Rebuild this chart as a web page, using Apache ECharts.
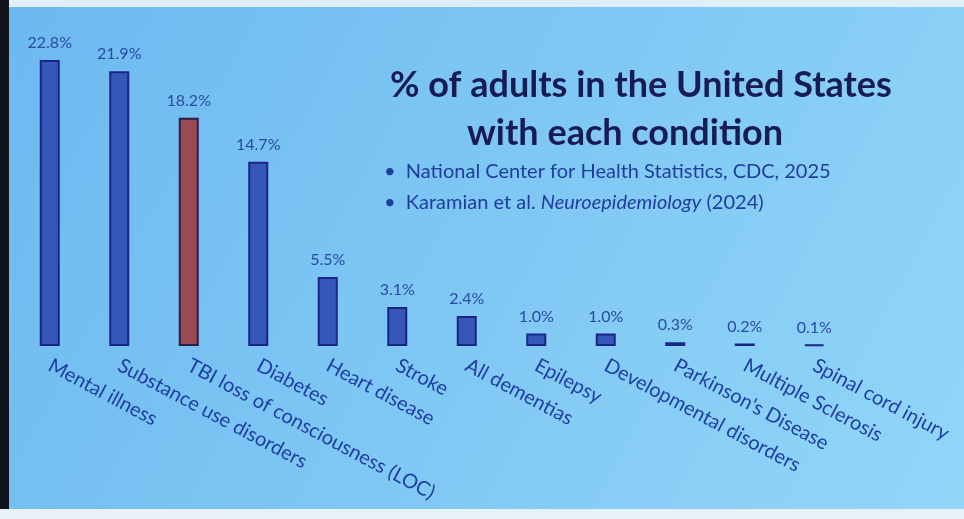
<!DOCTYPE html>
<html><head><meta charset="utf-8">
<script src="https://cdn.jsdelivr.net/npm/echarts@6/dist/echarts.min.js"></script>
<style>html,body{margin:0;padding:0;background:#fff}#c{width:964px;height:519px}</style>
</head><body><div id="c"></div>
<script>
const categories = ["Mental illness","Substance use disorders","TBI loss of consciousness (LOC)","Diabetes","Heart disease","Stroke","All dementias","Epilepsy","Developmental disorders","Parkinson's Disease","Multiple Sclerosis","Spinal cord injury"];
const values = [22.8, 21.9, 18.2, 14.7, 5.5, 3.1, 2.4, 1.0, 1.0, 0.3, 0.2, 0.1];
const highlightIndex = 2;
const titleLines = ["% of adults in the United States", "with each condition"];
const sources = ["National Center for Health Statistics, CDC, 2025", "Karamian et al. Neuroepidemiology (2024)"];

const chart = echarts.init(document.getElementById('c'));
const font = 'Lato, "Open Sans", sans-serif';
chart.setOption({
  backgroundColor: new echarts.graphic.LinearGradient(0,0,1,1,[{offset:0,color:'#6cb9f0'},{offset:1,color:'#92d6f8'}]),
  animation: false,
  graphic: [
    {type:'rect', left:0, top:0, shape:{width:964,height:7}, style:{fill:'#dfeef8'}},
    {type:'rect', left:0, top:0, shape:{width:9,height:519}, style:{fill:'#10131c'}},
    {type:'rect', left:0, top:509, shape:{width:964,height:10}, style:{fill:'#e6f1f8'}},
    {type:'text', x:641, y:85, style:{text:titleLines[0], font:'bold 36px '+font, fill:'#171c55', align:'center', verticalAlign:'middle'}},
    {type:'text', x:625, y:133, style:{text:titleLines[1], font:'bold 36px '+font, fill:'#171c55', align:'center', verticalAlign:'middle'}},
    {type:'text', x:384, y:172, style:{text:'•  ' + sources[0], font:'20px '+font, fill:'#1f3d9e', verticalAlign:'middle'}},
    {type:'text', x:384, y:203, style:{
      text:'{a|•  Karamian et al. }{i|Neuroepidemiology}{a| (2024)}', verticalAlign:'middle',
      rich:{a:{font:'20px '+font, fill:'#1f3d9e'}, i:{font:'italic 20px '+font, fill:'#1f3d9e'}}}}
  ],
  grid: {left: 15, right: 115, top: 45, bottom: 173},
  xAxis: {
    type: 'category', data: categories,
    axisLine: {show:false}, axisTick: {show:false},
    axisLabel: {interval:0, rotate:-28, color:'#1f3da5', fontFamily: font, fontSize: 20, margin: 18}
  },
  yAxis: {type:'value', min:0, max:24, show:false, splitLine:{show:false}},
  series: [{
    type: 'bar', barWidth: 20,
    data: values.map((v,i) => ({value:v, itemStyle: i===highlightIndex ? {color:'#9a4b52', borderColor:'#2a1f4a', borderWidth:2} : {color:'#3657b8', borderColor:'#1a2587', borderWidth:2}})),
    label: {show:true, position:'top', distance:9, color:'#2a4aa3', fontFamily: font, fontSize: 16, formatter: p => p.value.toFixed(1) + '%'}
  }]
});
</script></body></html>
